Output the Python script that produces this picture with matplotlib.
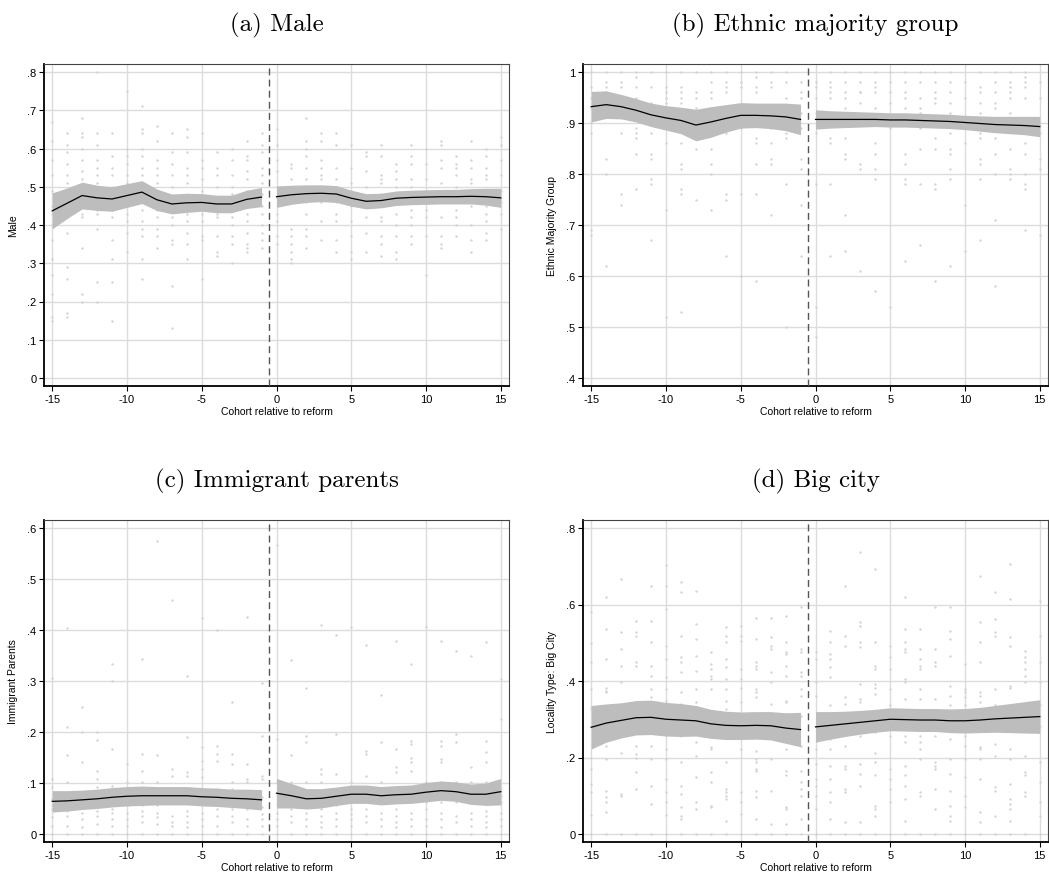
import numpy as np
import matplotlib
matplotlib.use("Agg")
import matplotlib.pyplot as plt
from matplotlib.ticker import FuncFormatter

plt.rcParams['font.family'] = ['Liberation Sans', 'DejaVu Sans']
plt.rcParams['axes.unicode_minus'] = False

cohorts = list(range(-15, 16))
pre = list(range(-15, 0))
post = list(range(0, 16))

# ---- (a) Male ----
male_dots = [
    [.67, .62, .57, .53, .49, .45, .43, .40, .36, .31, .27, .22, .16, .15],
    [.64, .61, .59, .56, .53, .51, .47, .45, .42, .38, .29, .26, .17, .16],
    [.68, .64, .63, .60, .57, .54, .52, .49, .47, .45, .43, .42, .34, .22, .20],
    [.80, .64, .61, .57, .55, .53, .51, .50, .48, .44, .43, .39, .25, .20],
    [.64, .58, .55, .53, .50, .48, .46, .44, .42, .36, .31, .25, .15],
    [.75, .60, .58, .56, .53, .51, .49, .47, .45, .43, .41, .38, .33],
    [.71, .65, .64, .60, .58, .55, .53, .51, .49, .44, .41, .39, .37, .31, .26],
    [.66, .62, .57, .55, .53, .51, .48, .44, .42, .39, .37, .34],
    [.64, .59, .56, .53, .50, .47, .44, .42, .40, .36, .35, .24, .13],
    [.65, .63, .59, .55, .53, .51, .47, .44, .43, .41, .38, .35, .31],
    [.64, .57, .55, .52, .49, .46, .43, .41, .37, .36, .26],
    [.59, .55, .53, .50, .47, .43, .42, .37, .33, .32],
    [.60, .57, .53, .50, .48, .46, .44, .42, .40, .37, .35, .30],
    [.62, .58, .57, .54, .52, .49, .47, .45, .43, .41, .38, .35, .34, .33],
    [.64, .61, .59, .55, .53, .51, .48, .45, .43, .40, .38, .36, .34],
    [.65, .61, .57, .54, .50, .47, .43, .41, .37, .35],
    [.56, .55, .52, .49, .46, .39, .37, .35, .33, .31, .30],
    [.68, .62, .60, .58, .55, .52, .50, .46, .43, .39, .37, .34],
    [.64, .62, .57, .55, .53, .52, .46, .41, .36],
    [.64, .61, .55, .52, .46, .43, .41, .36, .33],
    [.61, .55, .51, .49, .45, .41, .37, .33, .31],
    [.59, .58, .54, .50, .45, .42, .38, .33],
    [.61, .58, .53, .52, .51, .48, .42, .41, .37, .35, .32],
    [.56, .54, .52, .50, .46, .43, .40, .37, .33, .31],
    [.61, .58, .56, .52, .50, .47, .44, .42, .40, .37, .35],
    [.60, .56, .52, .48, .44, .42, .37, .27],
    [.62, .61, .57, .55, .51, .47, .42, .37, .35, .34],
    [.58, .56, .55, .53, .50, .44, .42, .40, .37],
    [.62, .57, .55, .52, .51, .47, .45, .40, .36, .33],
    [.60, .58, .55, .53, .52, .48, .45, .43, .41, .38, .36],
    [.63, .61, .57, .53, .49, .46, .43, .39],
]
male_pre = [.437, .457, .477, .471, .468, .477, .486, .466, .455, .458, .459, .455, .455, .467, .473]
male_pre_ci = [.047, .040, .035, .033, .032, .031, .030, .028, .026, .025, .023, .023, .023, .024, .025]
male_post = [.474, .479, .482, .483, .481, .470, .462, .464, .470, .472, .473, .474, .474, .475, .474, .471]
male_post_ci = [.028, .025, .023, .022, .022, .021, .020, .019, .019, .019, .019, .019, .019, .020, .022, .025]

# ---- (b) Ethnic majority group ----
ethnic_dots = [
    [1.0, .97, .95, .93, .90, .88, .69, .68],
    [1.0, .98, .97, .96, .83, .80, .62],
    [1.0, .98, .97, .95, .93, .88, .76, .74],
    [1.0, .99, .97, .95, .93, .89, .88, .87, .84, .77],
    [1.0, .97, .94, .92, .88, .84, .83, .79, .78, .67],
    [1.0, .97, .96, .95, .94, .93, .92, .86, .73, .52],
    [1.0, .97, .96, .95, .94, .91, .86, .82, .81, .77, .76, .53],
    [1.0, .96, .95, .93, .91, .88, .85, .75],
    [1.0, .98, .96, .95, .90, .85, .82, .80, .73],
    [1.0, .98, .97, .96, .93, .89, .88, .76, .75, .64],
    [1.0, .98, .97, .93, .92, .89, .76, .60],
    [1.0, .99, .97, .96, .92, .87, .86, .82, .76, .59],
    [1.0, .98, .97, .93, .89, .86, .83, .82, .72],
    [1.0, .98, .95, .93, .88, .87, .78, .50],
    [.98, .96, .95, .92, .89, .83, .81, .74, .64],
    [.98, .97, .95, .92, .88, .78, .54, .48],
    [1.0, .98, .97, .96, .95, .87, .86, .78, .64],
    [1.0, .98, .96, .95, .93, .87, .84, .83, .72, .65],
    [1.0, .98, .96, .96, .94, .82, .81, .61],
    [1.0, .98, .97, .96, .93, .86, .84, .81, .79, .57],
    [1.0, .98, .96, .94, .89, .54],
    [1.0, .98, .96, .95, .93, .84, .82, .79, .78, .63],
    [1.0, .98, .95, .93, .92, .89, .85, .78, .66],
    [1.0, .98, .96, .95, .94, .87, .85, .78, .77, .59],
    [1.0, .98, .96, .94, .92, .88, .85, .84, .81, .79, .62],
    [.98, .95, .89, .86, .74, .65],
    [1.0, .97, .96, .94, .92, .88, .87, .83, .82, .79, .67],
    [1.0, .98, .96, .94, .93, .91, .87, .84, .80, .71, .58],
    [1.0, .98, .97, .96, .95, .92, .89, .85, .81, .80, .79],
    [1.0, .99, .98, .97, .95, .91, .86, .84, .80, .78, .77, .69],
    [.98, .95, .90, .88, .83, .81, .68],
]
ethnic_pre = [.932, .936, .932, .925, .916, .910, .905, .896, .902, .909, .915, .915, .914, .912, .907]
ethnic_pre_ci = [.030, .027, .024, .023, .023, .024, .026, .031, .030, .027, .025, .024, .025, .027, .030]
ethnic_post = [.907, .907, .907, .907, .907, .906, .906, .905, .904, .903, .901, .899, .897, .896, .895, .893]
ethnic_post_ci = [.019, .017, .016, .015, .014, .014, .014, .014, .014, .014, .014, .015, .016, .017, .018, .020]

# ---- (c) Immigrant parents ----
immig_dots = [
    [0, .016, .033, .049, .056, .069, .092, .108, .306],
    [0, .016, .036, .046, .059, .101, .154, .209, .404],
    [0, .013, .029, .042, .062, .075, .142, .200, .250],
    [0, .020, .036, .046, .056, .069, .092, .108, .124, .185, .200],
    [0, .016, .029, .042, .049, .062, .075, .095, .167, .300, .333],
    [0, .016, .029, .042, .056, .069, .088, .101, .137],
    [0, .023, .036, .046, .056, .075, .101, .124, .157, .343],
    [0, .020, .033, .042, .056, .069, .101, .154, .575],
    [0, .016, .023, .036, .062, .075, .114, .127, .458],
    [0, .013, .023, .036, .046, .062, .075, .114, .121, .190, .310],
    [0, .016, .029, .042, .062, .082, .111, .127, .144, .170, .423],
    [0, .016, .036, .049, .062, .088, .144, .157, .173, .400],
    [0, .023, .036, .049, .069, .088, .101, .137, .157, .258],
    [0, .016, .029, .049, .069, .101, .108, .137, .425],
    [0, .016, .029, .039, .052, .072, .108, .114, .193, .297],
    [0, .016, .029, .042, .059, .075, .101, .186, .567],
    [0, .023, .036, .049, .069, .101, .154, .342],
    [0, .016, .029, .042, .056, .075, .101, .180, .193, .286],
    [0, .013, .023, .036, .049, .062, .075, .101, .118, .127, .410],
    [0, .016, .029, .042, .056, .069, .118, .196, .390],
    [0, .016, .029, .039, .049, .062, .075, .101, .405],
    [0, .023, .036, .049, .062, .075, .114, .157, .163, .371],
    [0, .016, .029, .042, .062, .075, .101, .180, .273],
    [0, .013, .023, .036, .049, .062, .121, .131, .167, .379],
    [0, .016, .029, .042, .062, .075, .124, .141, .150, .176, .183, .333],
    [0, .016, .029, .049, .062, .075, .101, .405],
    [0, .013, .029, .042, .062, .075, .101, .141, .147, .173, .183, .379],
    [0, .023, .036, .062, .075, .101, .180, .196, .359],
    [0, .016, .029, .042, .062, .075, .101, .131, .350],
    [0, .013, .023, .036, .046, .062, .075, .101, .141, .160, .183, .377],
    [0, .016, .029, .042, .062, .075, .225, .304],
]
immig_pre = [.064, .065, .067, .069, .072, .074, .075, .075, .075, .075, .073, .072, .070, .069, .067]
immig_pre_ci = [.021, .020, .019, .019, .019, .019, .019, .018, .018, .018, .018, .018, .018, .019, .020]
immig_post = [.080, .075, .069, .070, .074, .078, .078, .075, .077, .078, .082, .085, .083, .078, .078, .083]
immig_post_ci = [.029, .024, .020, .019, .018, .018, .018, .018, .018, .018, .019, .019, .019, .020, .022, .026]

# ---- (d) Big city ----
city_dots = [
    [0, .05, .11, .13, .17, .20, .28, .33, .38, .45, .50, .58],
    [0, .057, .083, .096, .113, .196, .231, .370, .375, .383, .457, .536, .619],
    [0, .100, .105, .213, .257, .397, .440, .484, .527, .667],
    [0, .118, .161, .200, .209, .231, .270, .300, .440, .449, .518, .527, .558],
    [0, .078, .126, .196, .231, .357, .379, .414, .440, .501, .558, .649],
    [0, .050, .083, .109, .144, .196, .222, .261, .349, .379, .410, .457, .492, .588, .649, .702],
    [0, .039, .048, .070, .105, .126, .187, .257, .340, .370, .423, .449, .462, .518, .632, .658],
    [0, .065, .083, .148, .205, .240, .266, .292, .344, .379, .427, .466, .510, .549, .636],
    [0, .070, .074, .135, .161, .222, .227, .266, .379, .405, .414, .431, .444, .475],
    [0, .035, .092, .100, .109, .118, .187, .327, .349, .379, .405, .436, .457, .501, .518, .540],
    [0, .052, .083, .109, .222, .344, .383, .405, .431, .505, .518, .545],
    [0, .039, .096, .113, .166, .170, .187, .196, .218, .357, .370, .379, .431, .440, .449, .510, .566],
    [0, .026, .113, .196, .283, .310, .340, .397, .423, .484, .492, .514, .566],
    [0, .026, .065, .070, .153, .166, .222, .344, .349, .414, .440, .471, .475, .501, .571],
    [0, .039, .100, .118, .135, .166, .231, .309, .362, .379, .414, .423, .475, .484, .593],
    [0, .065, .100, .126, .144, .183, .222, .362, .397, .457, .475],
    [0, .039, .083, .109, .144, .179, .222, .248, .275, .336, .410, .436, .457, .471, .501, .532],
    [0, .031, .109, .118, .170, .179, .231, .266, .340, .357, .492, .518, .649],
    [0, .031, .126, .157, .183, .257, .309, .344, .353, .392, .488, .501, .545, .553, .736],
    [0, .048, .065, .074, .153, .187, .213, .266, .366, .383, .392, .431, .440, .501, .693],
    [0, .083, .118, .144, .170, .257, .275, .336, .379, .431, .462, .492],
    [0, .035, .092, .126, .153, .179, .240, .257, .309, .353, .397, .405, .475, .484, .501, .536, .619],
    [0, .100, .109, .196, .222, .240, .257, .292, .318, .353, .379, .431, .440, .457, .484, .536],
    [0, .065, .118, .170, .179, .187, .257, .318, .353, .440, .449, .484, .593],
    [0, .035, .048, .074, .113, .157, .196, .248, .301, .336, .362, .388, .466, .510, .532, .593],
    [0, .070, .100, .148, .196, .231, .257, .301, .336, .357, .370, .379, .444],
    [0, .031, .057, .144, .196, .222, .227, .344, .362, .370, .449, .501, .553, .675],
    [0, .048, .113, .122, .205, .235, .336, .379, .518, .527, .562, .632],
    [0, .035, .065, .078, .092, .131, .196, .222, .383, .388, .492, .514, .614, .706],
    [0, .100, .109, .153, .161, .205, .397, .414, .431, .449, .462, .479],
    [0, .048, .083, .135, .187, .283, .336, .397, .449, .518, .610],
]
city_pre = [.279, .290, .297, .304, .305, .300, .298, .296, .288, .284, .283, .284, .283, .277, .273]
city_pre_ci = [.057, .050, .046, .045, .045, .044, .043, .040, .038, .037, .036, .036, .037, .040, .045]
city_post = [.280, .284, .288, .292, .296, .300, .299, .298, .298, .296, .296, .298, .301, .303, .305, .307]
city_post_ci = [.040, .036, .033, .031, .030, .030, .030, .030, .030, .031, .032, .033, .035, .038, .041, .044]


def stata_fmt(v, pos):
    s = ('%.1f' % v).rstrip('0').rstrip('.')
    if s.startswith('0.'):
        s = s[1:]
    if s == '' or s == '-0':
        s = '0'
    return s


def draw_panel(ax, title, ylabel, dots, pre_y, pre_ci, post_y, post_ci, yticks):
    xs = [c for c, vals in zip(cohorts, dots) for _ in vals]
    ys = [v for vals in dots for v in vals]

    ax.set_axisbelow(True)
    for t in [-15, -10, -5, 0, 5, 10, 15]:
        ax.axvline(t, color='#dcdcdc', lw=1.0, zorder=0)
    for t in yticks:
        ax.axhline(t, color='#dcdcdc', lw=1.0, zorder=0)

    ax.scatter(xs, ys, s=3, color='#d3d3d3', linewidths=0, zorder=1)

    pre_y = np.array(pre_y); pre_ci = np.array(pre_ci)
    post_y = np.array(post_y); post_ci = np.array(post_ci)
    ax.fill_between(pre, pre_y - pre_ci, pre_y + pre_ci, color='#bdbdbd', lw=0, zorder=2)
    ax.fill_between(post, post_y - post_ci, post_y + post_ci, color='#bdbdbd', lw=0, zorder=2)
    ax.plot(pre, pre_y, color='black', lw=0.9, zorder=3)
    ax.plot(post, post_y, color='black', lw=0.9, zorder=3)

    ax.axvline(-0.5, color='#555555', lw=1.0, ls=(0, (5, 3)), zorder=4)

    span = yticks[-1] - yticks[0]
    pad = span * 8 / 306
    ax.set_ylim(yticks[0] - pad, yticks[-1] + pad)
    ax.set_xlim(-15.55, 15.55)
    ax.set_xticks([-15, -10, -5, 0, 5, 10, 15])
    ax.set_yticks(yticks)
    ax.xaxis.set_major_formatter(FuncFormatter(lambda v, p: str(int(round(v)))))
    ax.yaxis.set_major_formatter(FuncFormatter(stata_fmt))
    ax.tick_params(axis='both', labelsize=8, length=3.5, width=0.8, pad=2)

    for side in ['left', 'bottom']:
        ax.spines[side].set_color('black')
        ax.spines[side].set_linewidth(1.3)
    for side in ['top', 'right']:
        ax.spines[side].set_color('#444444')
        ax.spines[side].set_linewidth(0.8)

    ax.set_xlabel('Cohort relative to reform', fontsize=7.5)
    ax.xaxis.set_label_coords(0.5, -0.062)
    ax.set_ylabel(ylabel, fontsize=7.5)
    ax.yaxis.set_label_coords(-0.056, 0.5)
    ax.set_title(title, family='cmr10', fontsize=18, pad=24)


fig = plt.figure(figsize=(10.49, 8.78), dpi=100)
W, H = 1049, 878
aw, ah = 465 / W, 322 / H
ax_a = fig.add_axes([44 / W, 1 - 387 / H, aw, ah])
ax_b = fig.add_axes([583 / W, 1 - 387 / H, aw, ah])
ax_c = fig.add_axes([44 / W, 1 - 843 / H, aw, ah])
ax_d = fig.add_axes([583 / W, 1 - 843 / H, aw, ah])

draw_panel(ax_a, '(a) Male', 'Male', male_dots, male_pre, male_pre_ci,
           male_post, male_post_ci, [0, .1, .2, .3, .4, .5, .6, .7, .8])
draw_panel(ax_b, '(b) Ethnic majority group', 'Ethnic Majority Group', ethnic_dots,
           ethnic_pre, ethnic_pre_ci, ethnic_post, ethnic_post_ci, [.4, .5, .6, .7, .8, .9, 1.0])
draw_panel(ax_c, '(c) Immigrant parents', 'Immigrant Parents', immig_dots,
           immig_pre, immig_pre_ci, immig_post, immig_post_ci, [0, .1, .2, .3, .4, .5, .6])
draw_panel(ax_d, '(d) Big city', 'Locality Type: Big City', city_dots,
           city_pre, city_pre_ci, city_post, city_post_ci, [0, .2, .4, .6, .8])

fig.savefig('out.png', dpi=100)
